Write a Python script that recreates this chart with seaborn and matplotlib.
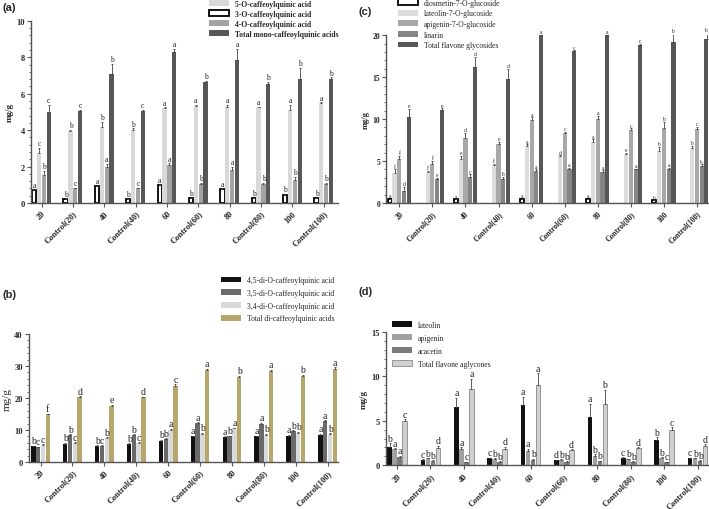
import numpy as np
import pandas as pd
import matplotlib
matplotlib.use('Agg')
import matplotlib.pyplot as plt
import seaborn as sns
from matplotlib.ticker import MultipleLocator, AutoMinorLocator

groups = ['20', 'Control(20)', '40', 'Control(40)', '60', 'Control(60)',
          '80', 'Control(80)', '100', 'Control(100)']

# (a) mono-caffeoylquinic acids, bar order in each group
a_names = ['3-O-caffeoylquinic acid', '5-O-caffeoylquinic acid',
           '4-O-caffeoylquinic acid', 'Total mono-caffeoylquinic acids']
a_3o = [0.70, 0.22, 0.91, 0.22, 1.00, 0.26, 0.75, 0.26, 0.46, 0.26]
a_5o = [2.74, 3.95, 4.15, 4.00, 5.21, 5.34, 5.28, 5.25, 5.10, 5.48]
a_4o = [1.55, 0.80, 1.99, 0.80, 2.07, 1.04, 1.79, 1.04, 1.24, 1.04]
a_tot = [4.99, 5.06, 7.09, 5.05, 8.30, 6.65, 7.86, 6.54, 6.82, 6.80]
a_err = [[0.05, 0.03, 0.05, 0.03, 0.03, 0.03, 0.05, 0.03, 0.05, 0.03],
         [0.30, 0.05, 0.30, 0.10, 0.05, 0.05, 0.10, 0.05, 0.30, 0.05],
         [0.20, 0.05, 0.15, 0.05, 0.10, 0.05, 0.20, 0.05, 0.20, 0.05],
         [0.40, 0.05, 0.55, 0.05, 0.15, 0.05, 0.60, 0.10, 0.60, 0.10]]
a_let = [list('ababababbb'), list('cbbbaaaaaa'), list('bcacababbb'), list('ccbcababbb')]

# (b) di-caffeoylquinic acids
b_names = ['4,5-di-O-caffeoylquinic acid', '3,5-di-O-caffeoylquinic acid',
           '3,4-di-O-caffeoylquinic acid', 'Total di-caffeoylquinic acids']
b_45 = [4.9, 5.8, 5.0, 5.7, 6.7, 8.0, 7.8, 8.0, 8.2, 8.6]
b_35 = [4.6, 8.4, 5.1, 8.4, 7.1, 12.1, 8.0, 12.0, 9.6, 12.7]
b_34 = [5.4, 6.0, 7.5, 6.0, 10.0, 8.8, 10.5, 8.5, 9.2, 8.7]
b_tot = [14.9, 20.3, 17.6, 20.2, 23.9, 28.9, 26.5, 28.5, 26.9, 29.2]
b_err = [[0.2, 0.2, 0.2, 0.2, 0.3, 0.2, 0.3, 0.2, 0.3, 0.3],
         [0.2, 0.3, 0.2, 0.3, 0.3, 0.3, 0.3, 0.3, 0.4, 0.3],
         [0.2, 0.2, 0.3, 0.2, 0.4, 0.3, 0.3, 0.3, 0.3, 0.3],
         [0.2, 0.2, 0.3, 0.2, 0.4, 0.3, 0.4, 0.3, 0.4, 0.4]]
b_let = [list('bbbbbaaaaa'), list('cbcbbababa'), list('ccbcababbb'), list('fdedcababa')]

# (c) flavone glycosides
c_names = ['diosmetin-7-O-glucoside', 'luteolin-7-O-glucoside',
           'apigenin-7-O-glucoside', 'linarin', 'Total flavone glycosides']
c_dios = [0.44, 0, 0.42, 0, 0.45, 0, 0.45, 0, 0.30, 0]
c_lut = [3.6, 3.7, 5.3, 4.5, 6.8, 5.6, 7.3, 5.9, 6.2, 6.5]
c_api = [5.2, 4.6, 7.8, 7.0, 9.9, 8.3, 10.0, 8.7, 8.9, 8.8]
c_lin = [1.4, 2.9, 3.1, 2.9, 3.8, 4.1, 3.7, 4.0, 4.0, 4.4]
c_tot = [10.3, 11.1, 16.2, 14.8, 20.0, 18.1, 20.0, 18.8, 19.2, 19.5]
c_err = [[0.02, 0, 0.02, 0, 0.02, 0, 0.02, 0, 0.02, 0],
         [0.4, 0.1, 0.3, 0.2, 0.2, 0.1, 0.3, 0.1, 0.5, 0.3],
         [0.4, 0.4, 0.6, 0.3, 0.3, 0.2, 0.4, 0.2, 0.8, 0.3],
         [0.5, 0.1, 0.3, 0.2, 0.2, 0.1, 0.2, 0.1, 0.2, 0.2],
         [0.9, 0.2, 1.2, 1.2, 0.1, 0.1, 0.1, 0.2, 1.0, 0.8]]
c_let = [['a', '', 'a', '', 'a', '', 'a', '', 'b', ''],
         list('ffefadaebb'), list('ffdeacacbc'), list('decbaaaaab'), list('eeddacacbb')]

# (d) flavone aglycones
d_names = ['luteolin', 'apigenin', 'acacetin', 'Total flavone aglycones']
d_lut = [2.10, 0.60, 6.52, 0.75, 6.78, 0.55, 5.39, 0.83, 2.86, 0.80]
d_api = [1.77, 0.75, 1.85, 0.70, 1.62, 0.60, 1.00, 0.65, 0.80, 0.75]
d_aca = [0.94, 0.50, 0.34, 0.40, 0.60, 0.40, 0.45, 0.40, 0.35, 0.50]
d_tot = [4.97, 1.96, 8.63, 1.85, 9.05, 1.65, 6.90, 1.90, 4.00, 2.15]
d_err = [[0.35, 0.05, 1.10, 0.10, 0.95, 0.05, 1.50, 0.05, 0.30, 0.05],
         [0.15, 0.05, 0.15, 0.05, 0.20, 0.05, 0.20, 0.05, 0.10, 0.05],
         [0.10, 0.05, 0.05, 0.05, 0.10, 0.05, 0.05, 0.05, 0.05, 0.05],
         [0.20, 0.20, 1.10, 0.20, 1.30, 0.15, 1.60, 0.10, 0.25, 0.20]]
d_let = [list('bcacadacbc'), list('abababbbbb'), list('abcbbbbbcb'), list('cdadadbdcd')]

sns.set_style('ticks')
plt.rcParams['font.family'] = ['Liberation Serif', 'DejaVu Serif']
plt.rcParams['axes.linewidth'] = 1.0


def draw_panel(ax, names, values, errs, letters, colors, width, gap, ymax, ystep,
               let_size, tick_size, hollow=None, edge_all=None):
    df = pd.DataFrame({'group': np.tile(groups, len(names)),
                       'series': np.repeat(names, len(groups)),
                       'value': np.concatenate(values)})
    sns.barplot(data=df, x='group', y='value', hue='series', hue_order=names,
                palette=dict(zip(names, colors)), width=width, gap=gap,
                errorbar=None, legend=False, saturation=1, linewidth=0, ax=ax)
    pad = ymax * 0.004
    for i, (cont, err, lets) in enumerate(zip(ax.containers, errs, letters)):
        for p, e, l in zip(cont, err, lets):
            h = p.get_height()
            if h <= 0:
                p.set_visible(False)
                continue
            if i == hollow:
                p.set_edgecolor('black')
                p.set_linewidth(1.3)
            if edge_all is not None and i == edge_all:
                p.set_edgecolor('#888888')
                p.set_linewidth(0.6)
            x = p.get_x() + p.get_width() / 2
            ax.errorbar([x], [h], yerr=[[0], [e]], fmt='none', ecolor='#444444',
                        elinewidth=0.6, capsize=1.0, capthick=0.6)
            if l:
                ax.text(x, h + e + pad, l, ha='center', va='bottom',
                        fontsize=let_size, color='#222222')
    ax.set_ylim(0, ymax)
    ax.yaxis.set_major_locator(MultipleLocator(ystep))
    ax.yaxis.set_minor_locator(AutoMinorLocator(5))
    ax.set_xlabel('')
    ax.set_ylabel('mg/g', fontsize=tick_size + 0.5, fontweight='bold', labelpad=2)
    sns.despine(ax=ax)
    for s in ['left', 'bottom']:
        ax.spines[s].set_color('#555555')
    ax.tick_params(axis='both', which='major', length=3, width=0.8, color='#555555',
                   labelsize=tick_size, pad=1.5)
    ax.tick_params(axis='y', which='minor', length=1.5, width=0.6, color='#555555')
    ax.tick_params(axis='x', which='minor', length=0)
    for t in ax.get_xticklabels():
        t.set_rotation(45)
        t.set_ha('right')
        t.set_rotation_mode('anchor')
        t.set_fontweight('bold')
    for t in ax.get_yticklabels():
        t.set_fontweight('bold')


fig = plt.figure(figsize=(7.09, 5.10), dpi=100)
ax_a = fig.add_axes([0.044, 0.600, 0.433, 0.357])
ax_c = fig.add_axes([0.545, 0.600, 0.453, 0.329])
ax_b = fig.add_axes([0.041, 0.092, 0.436, 0.251])
ax_d = fig.add_axes([0.544, 0.086, 0.454, 0.261])

draw_panel(ax_a, a_names, [a_3o, a_5o, a_4o, a_tot], a_err, a_let,
           ['white', '#d9d9d9', '#a3a3a3', '#575757'], 0.62, 0.12, 10, 2, 5.5, 6, hollow=0)
ax_a.set_xlim(-0.33, 9.46)

draw_panel(ax_c, c_names, [c_dios, c_lut, c_api, c_lin, c_tot], c_err, c_let,
           ['white', '#dcdcdc', '#a8a8a8', '#858585', '#565656'], 0.72, 0.12, 20, 5, 4, 5.5, hollow=0)
ax_c.set_xlim(-0.39, 9.32)

draw_panel(ax_b, b_names, [b_45, b_35, b_34, b_tot], b_err, b_let,
           ['#111111', '#6a6a6a', '#d9d9d9', '#b5a76c'], 0.6, 0.08, 40, 10, 7, 6)
ax_b.set_xlim(-0.36, 9.33)
ax_b.yaxis.label.set_fontweight('normal')
ax_b.yaxis.label.set_fontsize(8)

draw_panel(ax_d, d_names, [d_lut, d_api, d_aca, d_tot], d_err, d_let,
           ['#111111', '#a0a0a0', '#7b7b7b', '#d0d0d0'], 0.6, 0.08, 15, 5, 7, 6, edge_all=3)
ax_d.set_xlim(-0.34, 9.3)

# legends
def add_legend(ax, order, labels, anchor, size, bold=False, spacing=0.35):
    handles = [ax.containers[i] for i in order]
    prop = {'size': size, 'weight': 'bold' if bold else 'normal'}
    fig.legend(handles, labels, loc='upper left', bbox_to_anchor=anchor,
               bbox_transform=fig.transFigure, frameon=False, prop=prop,
               handlelength=2.6, handleheight=0.8, labelspacing=spacing,
               borderpad=0, handletextpad=0.8)

add_legend(ax_a, [1, 0, 2, 3], [a_names[1], a_names[0], a_names[2], a_names[3]],
           (0.289, 1.006), 5.5, bold=True, spacing=0.27)
add_legend(ax_c, [0, 1, 2, 3, 4], c_names, (0.556, 1.008), 5.5, spacing=0.34)
add_legend(ax_b, [0, 1, 2, 3], b_names, (0.307, 0.464), 5.5, spacing=0.62)
add_legend(ax_d, [0, 1, 2, 3], d_names, (0.547, 0.376), 5.5, spacing=0.64)

for x, y, lab in [(0.003, 0.985, '(a)'), (0.505, 0.976, '(c)'),
                  (0.003, 0.421, '(b)'), (0.505, 0.427, '(d)')]:
    fig.text(x, y, lab, fontsize=8, fontweight='bold', va='center',
             family=['Liberation Sans', 'DejaVu Sans'])

fig.savefig('out.png', dpi=100)
plt.close()
